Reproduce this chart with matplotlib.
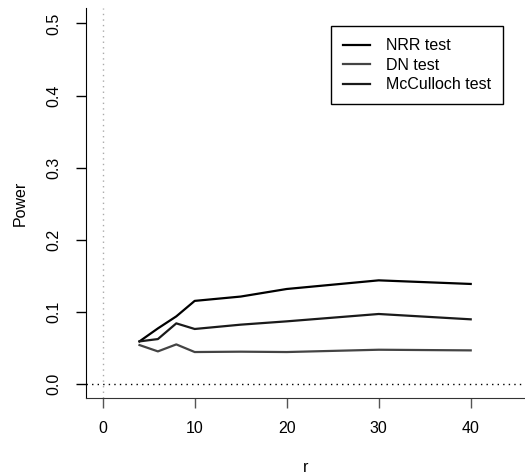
import matplotlib.pyplot as plt
from matplotlib.lines import Line2D

plt.rcParams['font.family'] = ['Liberation Sans', 'DejaVu Sans']

# sample sizes and power of each test
r = [4, 6, 8, 10, 15, 20, 30, 40]
nrr_power = [0.0588, 0.0768, 0.0935, 0.115, 0.121, 0.1315, 0.1435, 0.1385]
dn_power = [0.0537, 0.0449, 0.0546, 0.044, 0.0445, 0.044, 0.0472, 0.0463]
mcc_power = [0.0588, 0.062, 0.0838, 0.076, 0.082, 0.0866, 0.0968, 0.0894]

labels = ['NRR test', 'DN test', 'McCulloch test']
colors = ['#000000', '#444444', '#1a1a1a']

fig = plt.figure(figsize=(5.25, 4.75), dpi=100)
ax = fig.add_axes([0.1644, 0.1627, 1.0 - 0.1644, 0.983 - 0.1627])

ax.axvline(0, color='#aaaaaa', lw=1, ls=(0, (1, 3)))
ax.axhline(0, color='black', lw=1, ls=(0, (1, 3)))

ax.plot(r, nrr_power, color=colors[0], lw=1.6)
ax.plot(r, dn_power, color=colors[1], lw=1.6)
ax.plot(r, mcc_power, color=colors[2], lw=1.6)

ax.set_xlim(-1.78, 45.9)
ax.set_ylim(-0.0194, 0.5214)
ax.set_xticks([0, 10, 20, 30, 40])
ax.set_yticks([0.0, 0.1, 0.2, 0.3, 0.4, 0.5])
ax.set_yticklabels(['0.0', '0.1', '0.2', '0.3', '0.4', '0.5'], rotation=90, va='center')

for s in ['top', 'right']:
    ax.spines[s].set_visible(False)
ax.spines['left'].set_color('black')
ax.spines['bottom'].set_color('#333333')
ax.tick_params(axis='x', length=7, width=1, color='#555555', pad=10, labelsize=11.5)
ax.tick_params(axis='y', length=7, width=1, color='black', pad=11, labelsize=11.5)

ax.set_xlabel('r', fontsize=11.5, labelpad=17)
ax.set_ylabel('Power', fontsize=11.5, labelpad=13.5)

handles = [Line2D([], [], color=c, lw=1.6) for c in colors]
leg = ax.legend(handles, labels, loc='upper left', bbox_to_anchor=(0.558, 0.953),
                frameon=True, fancybox=False, edgecolor='black', framealpha=1,
                fontsize=11.5, handlelength=1.7, handletextpad=1.0,
                labelspacing=0.28, borderpad=0.74, borderaxespad=0)
leg.get_frame().set_linewidth(1)

fig.savefig('out.png', dpi=100)
